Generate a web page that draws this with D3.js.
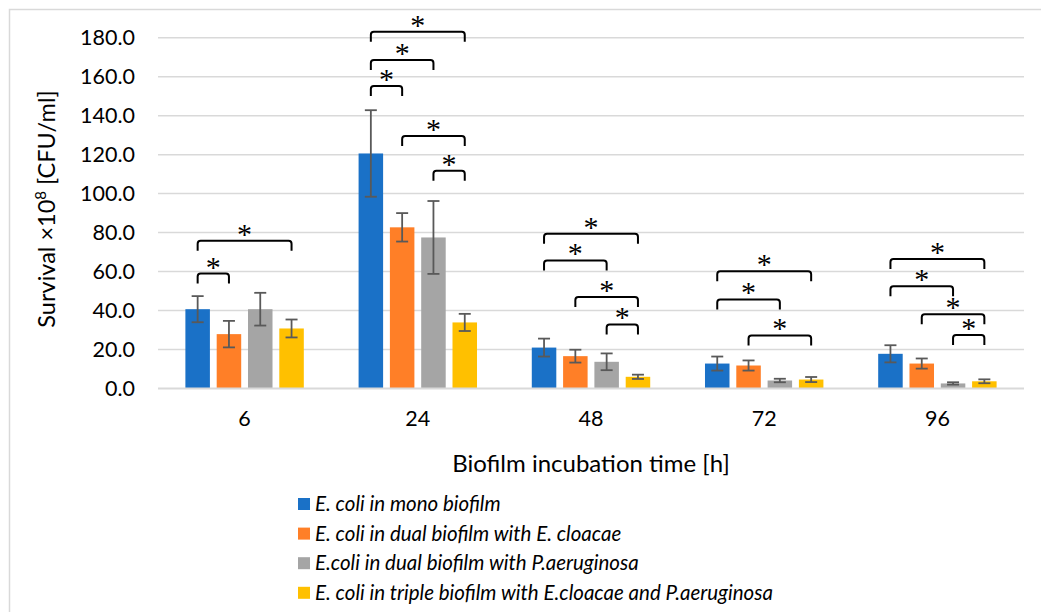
<!DOCTYPE html>
<html>
<head>
<meta charset="utf-8">
<script src="https://cdn.jsdelivr.net/npm/d3@7"></script>
<style>
  html, body { margin: 0; padding: 0; background: #fff; }
  svg { display: block; }
  text { font-family: Lato, "Open Sans", sans-serif; fill: #000; }
</style>
</head>
<body>
<svg id="chart" width="1041" height="612"></svg>
<script>
// Incubation times (h)
const categories = ["6", "24", "48", "72", "96"];

const seriesNames = [
  "E. coli in mono biofilm",
  "E. coli in dual biofilm with E. cloacae",
  "E.coli in dual biofilm with P.aeruginosa",
  "E. coli in triple biofilm with E.cloacae and P.aeruginosa"
];

// Mean survival (x10^8 CFU/ml) per incubation time
const monoValues    = [40.7, 120.6, 21.0, 12.8, 17.8];
const cloacaeValues = [27.9, 82.7, 16.6, 11.8, 12.8];
const aeruginValues = [40.7, 77.5, 13.7, 4.1, 2.6];
const tripleValues  = [30.8, 33.9, 6.0, 4.6, 3.7];

// Standard deviations
const monoErr    = [6.7, 22.2, 4.6, 3.6, 4.4];
const cloacaeErr = [6.8, 7.3, 3.3, 2.6, 2.6];
const aeruginErr = [8.4, 18.7, 4.3, 0.9, 0.6];
const tripleErr  = [4.6, 4.4, 1.1, 1.3, 1.0];

const yTicks = [0, 20, 40, 60, 80, 100, 120, 140, 160, 180];

// Significance brackets: [time index, from series, to series, bracket level]
const significance = [
  [0, 0, 1, 59.0], [0, 0, 3, 75.8],
  [1, 0, 3, 183.0], [1, 0, 2, 168.6], [1, 0, 1, 155.2], [1, 1, 3, 129.5], [1, 2, 3, 111.7],
  [2, 0, 3, 79.4], [2, 0, 2, 65.7], [2, 1, 3, 46.9], [2, 2, 3, 32.9],
  [3, 0, 3, 60.2], [3, 0, 2, 45.7], [3, 1, 3, 27.2],
  [4, 0, 3, 66.4], [4, 0, 2, 52.5], [4, 1, 3, 38.1], [4, 2, 3, 27.4]
];

const colors = ["#1a71c7", "#ff7f27", "#a5a5a5", "#ffc000"];

const valueSets = [monoValues, cloacaeValues, aeruginValues, tripleValues];
const errorSets = [monoErr, cloacaeErr, aeruginErr, tripleErr];

const svg = d3.select("#chart");

// Outer chart frame
svg.append("rect")
  .attr("x", 9.5).attr("y", 9.5)
  .attr("width", 1060).attr("height", 640)
  .attr("fill", "none").attr("stroke", "#d9d9d9").attr("stroke-width", 1.5);

const plot = { left: 158, right: 1024, top: 37.7, bottom: 388.5 };

const x0 = d3.scaleBand().domain(categories).range([plot.left, plot.right]).padding(0);
const x1 = d3.scaleBand().domain(d3.range(seriesNames.length))
  .range([0, x0.bandwidth()]).paddingInner(0.217).paddingOuter(0.875);
const y = d3.scaleLinear().domain([0, 180]).range([plot.bottom, plot.top]);

// Horizontal gridlines
svg.append("g").selectAll("line").data(yTicks.slice(1)).join("line")
  .attr("x1", plot.left).attr("x2", plot.right)
  .attr("y1", d => y(d)).attr("y2", d => y(d))
  .attr("stroke", "#d9d9d9").attr("stroke-width", 1.5);

// Y axis tick labels
const yAxis = d3.axisLeft(y).tickValues(yTicks).tickFormat(d3.format(".1f")).tickSize(0).tickPadding(0);
const yg = svg.append("g").attr("transform", `translate(${plot.left - 23},0)`).call(yAxis);
yg.select(".domain").remove();
yg.selectAll("text").style("font-size", "21.5px").style("font-family", "Lato, sans-serif").attr("fill", "#000");

// Bars
const groups = svg.append("g").selectAll("g").data(categories).join("g")
  .attr("transform", d => `translate(${x0(d)},0)`);

groups.selectAll("rect")
  .data((d, i) => valueSets.map((vals, s) => ({ s, v: vals[i] })))
  .join("rect")
  .attr("x", d => x1(d.s))
  .attr("width", x1.bandwidth())
  .attr("y", d => y(d.v))
  .attr("height", d => y(0) - y(d.v))
  .attr("fill", d => colors[d.s]);

// Category axis baseline
svg.append("line")
  .attr("x1", plot.left).attr("x2", plot.right)
  .attr("y1", y(0)).attr("y2", y(0))
  .attr("stroke", "#d9d9d9").attr("stroke-width", 2);

// Error bars
const capHalf = 6;
groups.selectAll("g.err")
  .data((d, i) => valueSets.map((vals, s) => ({ s, v: vals[i], e: errorSets[s][i] })))
  .join("g").attr("class", "err")
  .each(function (d) {
    const g = d3.select(this);
    const cx = x1(d.s) + x1.bandwidth() / 2;
    const hi = y(d.v + d.e), lo = y(d.v - d.e);
    g.append("line").attr("x1", cx).attr("x2", cx).attr("y1", hi).attr("y2", lo);
    g.append("line").attr("x1", cx - capHalf).attr("x2", cx + capHalf).attr("y1", hi).attr("y2", hi);
    g.append("line").attr("x1", cx - capHalf).attr("x2", cx + capHalf).attr("y1", lo).attr("y2", lo);
  })
  .selectAll("line").attr("stroke", "#595959").attr("stroke-width", 1.8);

// X axis tick labels
const xAxis = d3.axisBottom(x0).tickSize(0).tickPadding(0);
const xg = svg.append("g").attr("transform", `translate(0,${plot.bottom + 22})`).call(xAxis);
xg.select(".domain").remove();
xg.selectAll("text").style("font-size", "21.5px").style("font-family", "Lato, sans-serif").attr("fill", "#000");

// Significance brackets with stars
const legLen = 10, r = 3;
const brackets = svg.append("g");
significance.forEach(([ci, a, b, level]) => {
  const xa = x0(categories[ci]) + x1(a) + x1.bandwidth() / 2;
  const xb = x0(categories[ci]) + x1(b) + x1.bandwidth() / 2;
  const yt = y(level);
  const p = d3.path();
  p.moveTo(xa, yt + legLen);
  p.lineTo(xa, yt + r);
  p.quadraticCurveTo(xa, yt, xa + r, yt);
  p.lineTo(xb - r, yt);
  p.quadraticCurveTo(xb, yt, xb, yt + r);
  p.lineTo(xb, yt + legLen);
  brackets.append("path").attr("d", p.toString())
    .attr("fill", "none").attr("stroke", "#000").attr("stroke-width", 2);
  brackets.append("text")
    .attr("x", (xa + xb) / 2).attr("y", yt + 3)
    .attr("text-anchor", "middle")
    .style("font-family", "'Liberation Serif', serif")
    .style("font-size", "30px")
    .text("*");
});

// Axis titles
svg.append("text")
  .attr("transform", `translate(55,209) rotate(-90)`)
  .attr("text-anchor", "middle")
  .style("font-size", "23.5px")
  .call(t => {
    t.append("tspan").text("Survival ×10");
    t.append("tspan").attr("dy", -9).style("font-size", "15px").text("8");
    t.append("tspan").attr("dy", 9).text(" [CFU/ml]");
  });

svg.append("text")
  .attr("x", (plot.left + plot.right) / 2).attr("y", 472)
  .attr("text-anchor", "middle")
  .style("font-size", "24px")
  .text("Biofilm incubation time [h]");

// Legend
const legend = svg.append("g").attr("transform", "translate(298,498)");
const rows = legend.selectAll("g").data(seriesNames).join("g")
  .attr("transform", (d, i) => `translate(0,${i * 29.6})`);
rows.append("rect").attr("width", 12).attr("height", 12).attr("y", 0)
  .attr("fill", (d, i) => colors[i]);
rows.append("text").attr("x", 17).attr("y", 6).attr("dy", "0.35em")
  .style("font-size", "20.5px").style("font-style", "italic")
  .text(d => d);
</script>
</body>
</html>
